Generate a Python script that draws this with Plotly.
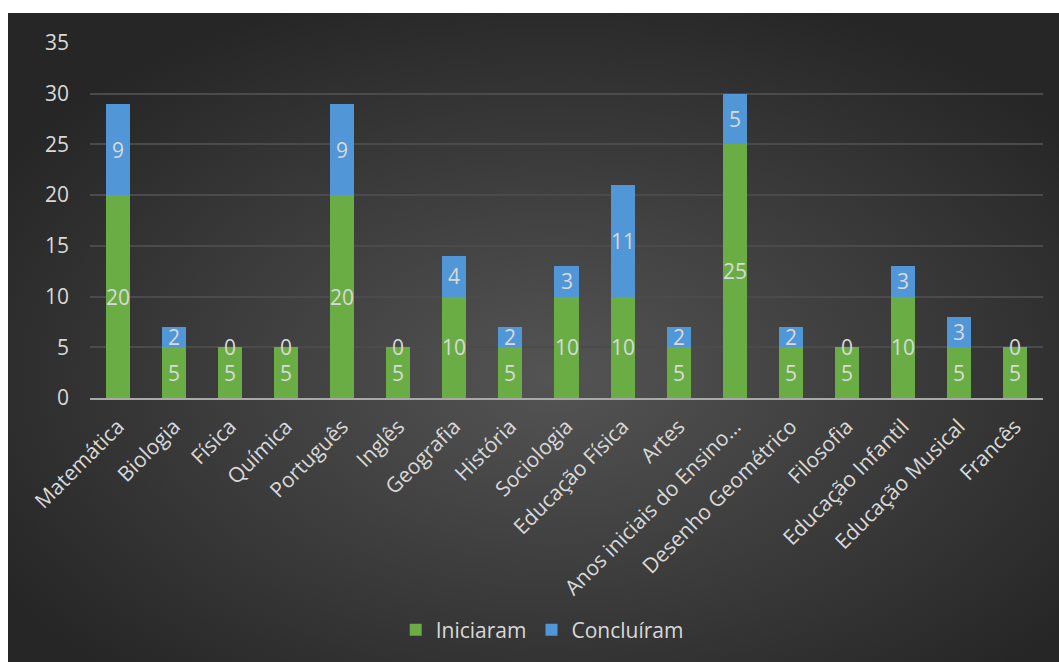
import base64
import plotly.graph_objects as go

# Disciplines and enrolment counts
categorias = [
    "Matemática", "Biologia", "Física", "Química", "Português", "Inglês",
    "Geografia", "História", "Sociologia", "Educação Física", "Artes",
    "Anos iniciais do Ensino…", "Desenho Geométrico", "Filosofia",
    "Educação Infantil", "Educação Musical", "Francês",
]
iniciaram = [20, 5, 5, 5, 20, 5, 10, 5, 10, 10, 5, 25, 5, 5, 10, 5, 5]
concluiram = [9, 2, 0, 0, 9, 0, 4, 2, 3, 11, 2, 5, 2, 0, 3, 3, 0]
y_ticks = [0, 5, 10, 15, 20, 25, 30, 35]

W, H = 1059, 662
ML, MR, MT, MB = 90, 16, 43, 264
TXT = "#d9d9d9"
FONT = "Open Sans"
FS = 21

fig = go.Figure()
fig.add_trace(go.Bar(
    name="Iniciaram", x=categorias, y=iniciaram,
    marker=dict(color="#6aad45", line=dict(width=0)),
))
fig.add_trace(go.Bar(
    name="Concluíram", x=categorias, y=concluiram,
    marker=dict(color="#5196d6", line=dict(width=0)),
))

# Value labels centred in each stacked segment
ann = []
for cat, a, b in zip(categorias, iniciaram, concluiram):
    ann.append(dict(x=cat, y=a / 2, text=str(a), showarrow=False,
                    font=dict(family=FONT, size=FS, color=TXT),
                    xref="x", yref="y", yanchor="middle"))
    ann.append(dict(x=cat, y=a + b / 2, text=str(b), showarrow=False,
                    font=dict(family=FONT, size=FS, color=TXT),
                    xref="x", yref="y", yanchor="middle"))

# Dark radial-gradient panel behind the chart
svg = f"""<svg xmlns='http://www.w3.org/2000/svg' width='1051' height='649' viewBox='0 0 1051 649' preserveAspectRatio='none'>
<defs><radialGradient id='g' cx='0.52' cy='0.56' r='0.62' gradientUnits='objectBoundingBox'>
<stop offset='0' stop-color='#545454'/><stop offset='1' stop-color='#262626'/>
</radialGradient></defs>
<rect width='1051' height='649' fill='url(#g)'/></svg>"""
src = "data:image/svg+xml;base64," + base64.b64encode(svg.encode()).decode()

pw = W - ML - MR
ph = H - MT - MB
px = lambda v: (v - ML) / pw
py = lambda v: (H - MB - v) / ph

fig.update_layout(
    width=W, height=H,
    margin=dict(l=ML, r=MR, t=MT, b=MB, autoexpand=False),
    paper_bgcolor="white", plot_bgcolor="rgba(0,0,0,0)",
    barmode="stack", bargap=0.57,
    font=dict(family=FONT, size=FS, color=TXT),
    showlegend=True,
    legend=dict(orientation="h", traceorder="normal", xref="container", x=0.512,
                xanchor="center", y=py(630), yanchor="middle",
                font=dict(family=FONT, size=FS, color=TXT),
                bgcolor="rgba(0,0,0,0)", itemwidth=30),
    annotations=ann,
    images=[dict(source=src, xref="paper", yref="paper",
                 x=px(8), y=py(13), sizex=px(1059) - px(8), sizey=py(13) - py(662),
                 xanchor="left", yanchor="top", sizing="stretch", layer="below")],
    xaxis=dict(tickangle=-45, showgrid=False, automargin=False,
               tickfont=dict(family=FONT, size=FS, color=TXT),
               ticklabelstandoff=6,
               showline=True, linecolor="#a9a9a9", linewidth=2,
               range=[-0.5, len(categorias) - 0.5], zeroline=False),
    yaxis=dict(range=[0, 35], tickvals=y_ticks, showgrid=True,
               gridcolor="#4b4b4b", gridwidth=1.5, zeroline=False,
               tickfont=dict(family=FONT, size=FS, color=TXT),
               ticklabelstandoff=20, automargin=False, showline=False),
)

fig.write_html("out.html")
